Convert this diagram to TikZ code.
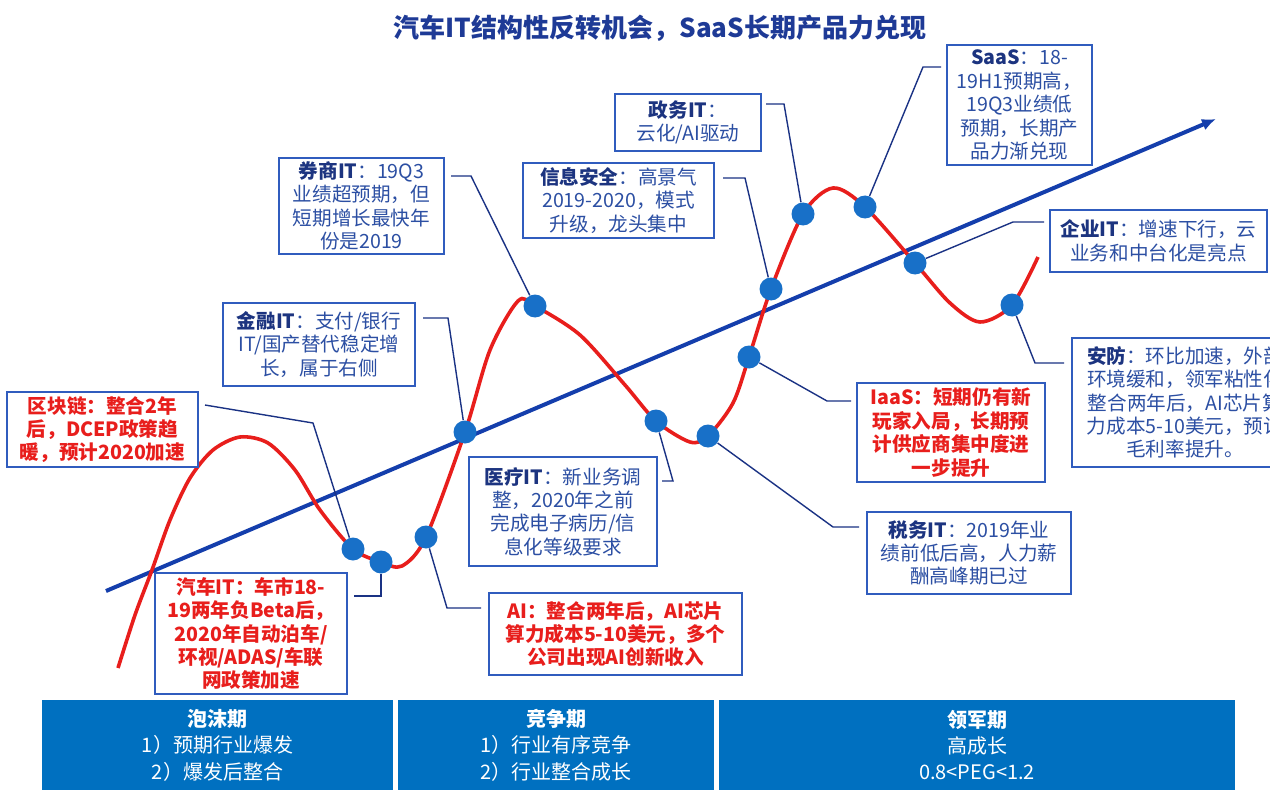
\documentclass[tikz,border=0pt]{standalone}
\usepackage{fontspec}
\setmainfont{Noto Sans CJK SC}
\usepackage{tikz}
\usetikzlibrary{arrows.meta,backgrounds}
\definecolor{frameblue}{RGB}{48,92,190}
\definecolor{txtblue}{RGB}{44,79,163}
\definecolor{headblue}{RGB}{28,52,128}
\definecolor{titleblue}{RGB}{30,58,150}
\definecolor{hotred}{RGB}{232,30,28}
\definecolor{trendblue}{RGB}{20,62,172}
\definecolor{dotblue}{RGB}{24,112,200}
\definecolor{linkblue}{RGB}{26,50,132}
\definecolor{barblue}{RGB}{0,112,192}
\tikzset{
  card/.style={draw=frameblue,line width=1pt,fill=white,text=txtblue,align=center,inner sep=2pt,font=\fontsize{9.8}{11.7}\selectfont},
  hotcard/.style={card,text=hotred,font=\fontsize{9.8}{11.7}\selectfont\bfseries},
  conn/.style={draw=linkblue,line width=0.7pt},
  dot/.style={circle,fill=dotblue,minimum size=11.5pt,inner sep=0pt},
  wave/.style={draw=hotred,line width=1.8pt},
  trend/.style={draw=trendblue,line width=2pt,-{Latex[length=7pt,width=6pt]}},
  stage/.style={fill=barblue,text=white,align=center,minimum height=45pt,inner sep=0pt,font=\fontsize{10}{13.2}\selectfont},
}
\newcommand{\hd}[1]{\textcolor{headblue}{\bfseries #1}}

\begin{document}
\begin{tikzpicture}[x=0.5pt,y=-0.5pt]
 \useasboundingbox (0,0) rectangle (1270,808);
 \node[font=\fontsize{13}{16}\selectfont\bfseries,text=titleblue] (title) at (660,28) {汽车IT结构性反转机会，SaaS长期产品力兑现};
 % points on the wave, left to right
 \foreach \n/\px/\py in {1/353/549,2/381/562,3/426/537,4/465/432,5/535/306,6/656/421,7/708/436,8/749/357,9/771/289,10/803/214,11/865/207,12/915/263,13/1012/305}
   \coordinate (p\n) at (\px,\py);
 \coordinate (t0) at (106,591);
 \coordinate (t1) at (1216,119);
 % red cards
 \node[hotcard,minimum width=95.5pt,minimum height=37.5pt] (qkl) at (102.5,429.5) {区块链：整合2年\\后，DCEP政策趋\\暖，预计2020加速};
 \node[hotcard,minimum width=96pt,minimum height=59.5pt] (qc) at (251,633.5) {汽车IT：车市18-\\19两年负Beta后，\\2020年自动泊车/\\环视/ADAS/车联\\网政策加速};
 \node[hotcard,minimum width=126.5pt,minimum height=41pt] (ai) at (615.5,634) {AI：整合两年后，AI芯片\\算力成本5-10美元，多个\\公司出现AI创新收入};
 \node[hotcard,minimum width=94pt,minimum height=49.5pt] (iaas) at (951,432.5) {IaaS：短期仍有新\\玩家入局，长期预\\计供应商集中度进\\一步提升};
 % blue cards
 \node[card,minimum width=82.5pt,minimum height=48pt] (qs) at (361.5,206) {\hd{券商IT}：19Q3\\业绩超预期，但\\短期增长最快年\\份是2019};
 \node[card,minimum width=96pt,minimum height=41.5pt] (jr) at (319,344.5) {\hd{金融IT}：支付/银行\\IT/国产替代稳定增\\长，属于右侧};
 \node[card,minimum width=73pt,minimum height=28.5pt] (zw) at (688,122.5) {\hd{政务IT}：\\云化/AI驱动};
 \node[card,minimum width=95.5pt,minimum height=37.5pt] (xx) at (618.5,200.5) {\hd{信息安全}：高景气\\2019-2020，模式\\升级，龙头集中};
 \node[card,minimum width=72.5pt,minimum height=60pt] (saas) at (1019.5,105) {\hd{SaaS}：18-\\19H1预期高，\\19Q3业绩低\\预期，长期产\\品力渐兑现};
 \node[card,minimum width=108.5pt,minimum height=31pt] (qy) at (1158.5,241) {\hd{企业IT}：增速下行，云\\业务和中台化是亮点};
 \node[card,minimum width=113pt,minimum height=64.5pt] (af) at (1185,402.5) {\hd{安防}：环比加速，外部\\环境缓和，领军粘性化\\整合两年后，AI芯片算\\力成本5-10美元，预计\\毛利率提升。};
 \node[card,minimum width=102pt,minimum height=41pt] (sw) at (969,553) {\hd{税务IT}：2019年业\\绩前低后高，人力薪\\酬高峰期已过};
 \node[card,minimum width=94pt,minimum height=54.5pt] (yl) at (563,511.5) {\hd{医疗IT}：新业务调\\整，2020年之前\\完成电子病历/信\\息化等级要求};
 % stages
 \node[stage,minimum width=175.5pt] (s1) at (217.5,745) {\textbf{泡沫期}\\1）预期行业爆发\\2）爆发后整合};
 \node[stage,minimum width=158pt] (s2) at (556,745) {\textbf{竞争期}\\1）行业有序竞争\\2）行业整合成长};
 \node[stage,minimum width=258pt] (s3) at (977,745) {\textbf{领军期}\\高成长\\0.8<PEG<1.2};
 \foreach \n in {1,...,13} \node[dot] (d\n) at (p\n) {};
 \begin{scope}[on background layer]
  \fill[white] (0,0) rectangle (1270,808);
  \draw[trend] (t0) -- (t1);
  \draw[wave] plot[smooth,tension=0.5] coordinates {(118,668) (135,615) (152,570) (170,520) (190,478) (213,450) (240,437) (268,443) (295,470) (320,510) (p1) (p2) (402,566) (p3) (p4) (490,350) (518,301) (p5) (580,335) (625,385) (p6) (690,442) (p7) (733,403) (p8) (p9) (p10) (833,188) (p11) (p12) (950,303) (980,322) (p13) (1038,257)};
  \draw[conn] ([shift={(3pt,12.25pt)}]qkl.east) -- (313,423) -- (d1);
  \draw[conn] ([shift={(3pt,18.75pt)}]qc.east) -| (d2);
  \draw[conn] ([shift={(-3.5pt,13pt)}]ai.west) -- (447,608) -- (d3);
  \draw[conn] ([shift={(3.5pt,13.25pt)}]jr.east) -- (448,318) -- (d4);
  \draw[conn] ([shift={(3pt,15pt)}]qs.east) -- (471,176) -- (d5);
  \draw[conn] ([shift={(2pt,15.25pt)}]yl.east) -- (673,481) -- (d6);
  \draw[conn] ([shift={(-3.5pt,13pt)}]sw.west) -- (833,527) -- (d7);
  \draw[conn] ([shift={(-2.5pt,15.75pt)}]iaas.west) -- (827,401) -- (d8);
  \draw[conn] ([shift={(4pt,11.25pt)}]xx.east) -- (745,178) -- (d9);
  \draw[conn] ([shift={(2pt,9.25pt)}]zw.east) -- (784,104) -- (d10);
  \draw[conn] ([shift={(-2.5pt,19pt)}]saas.west) -- (923,67) -- (d11);
  \draw[conn] ([shift={(-2.5pt,9.5pt)}]qy.west) -- (1013,222) -- (d12);
  \draw[conn] ([shift={(-3.5pt,19.75pt)}]af.west) -- (1035,363) -- (d13);
 \end{scope}
\end{tikzpicture}
\end{document}
